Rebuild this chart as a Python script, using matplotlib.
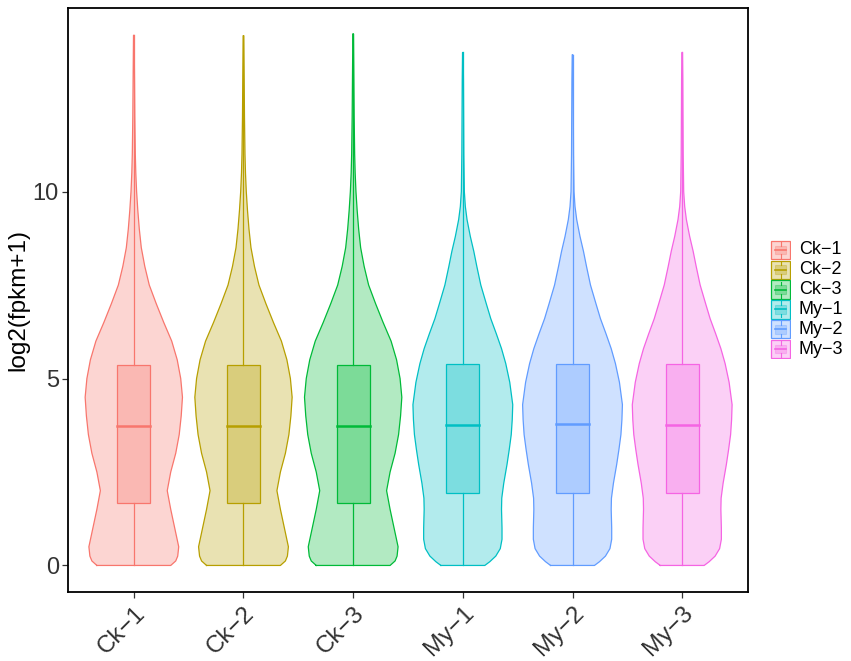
import numpy as np
import matplotlib.pyplot as plt
from matplotlib.patches import Rectangle

plt.rcParams['font.family'] = ['Liberation Sans', 'DejaVu Sans']

# samples and colours (ggplot hue palette)
samples = ['Ck−1', 'Ck−2', 'Ck−3', 'My−1', 'My−2', 'My−3']
colors = ['#F8766D', '#B79F00', '#00BA38', '#00BFC4', '#619CFF', '#F564E3']

# violin profiles: y level -> relative density (1 = widest)
y_ck = [0, 0.12, 0.25, 0.5, 1.0, 1.5, 2.0, 2.5, 3.0, 3.5, 4.0, 4.5, 5.0, 5.5, 6.0,
        6.5, 7.0, 7.5, 8.0, 8.5, 9.0, 9.5, 10.0, 10.5, 11.0, 12.0, 13.0]
d_ck = [0.74, 0.84, 0.88, 0.90, 0.82, 0.74, 0.67, 0.74, 0.84, 0.91, 0.95, 0.975,
        0.94, 0.87, 0.76, 0.60, 0.45, 0.31, 0.22, 0.15, 0.11, 0.08, 0.056, 0.04,
        0.03, 0.02, 0.014]
y_my = [0, 0.1, 0.25, 0.45, 0.7, 1.0, 1.5, 1.8, 2.2, 2.7, 3.1, 3.5, 3.9, 4.3, 4.9,
        5.4, 5.8, 6.2, 6.6, 7.0, 7.5, 8.0, 8.4, 8.8, 9.25, 9.6, 10.0, 11.0, 12.0, 13.0]
d_my = [0.44, 0.54, 0.66, 0.75, 0.785, 0.785, 0.775, 0.78, 0.82, 0.885, 0.93, 0.97,
        0.99, 1.0, 0.94, 0.86, 0.775, 0.67, 0.56, 0.47, 0.36, 0.28, 0.22, 0.15,
        0.084, 0.05, 0.03, 0.02, 0.016, 0.012]

# max value (violin tip / upper whisker) per sample
tops = [14.18, 14.17, 14.22, 13.72, 13.66, 13.72]
tip = 0.006

# box statistics
q1 = [1.68, 1.68, 1.66, 1.95, 1.95, 1.95]
med = [3.72, 3.74, 3.72, 3.77, 3.78, 3.76]
q3 = [5.36, 5.36, 5.36, 5.39, 5.40, 5.39]
lo = [0, 0, 0, 0, 0, 0]

fig = plt.figure(figsize=(8.51, 6.61), dpi=100)
ax = fig.add_axes([68 / 851, 1 - 592 / 661, 680 / 851, 584 / 661])

max_half = 0.455
box_w = 0.30
for i, name in enumerate(samples):
    pos = i + 1
    c = colors[i]
    if name.startswith('Ck'):
        ys = np.array(y_ck + [tops[i]])
        ds = np.array(d_ck + [tip])
    else:
        ys = np.array(y_my + [tops[i]])
        ds = np.array(d_my + [tip])
    half = ds * max_half
    ax.fill_betweenx(ys, pos - half, pos + half, facecolor=c, alpha=0.3,
                     edgecolor='none', zorder=2)
    xs = np.concatenate([pos - half, (pos + half)[::-1], [pos - half[0]]])
    yy = np.concatenate([ys, ys[::-1], [ys[0]]])
    ax.plot(xs, yy, color=c, lw=0.9, zorder=3)
    # boxplot
    ax.plot([pos, pos], [lo[i], q1[i]], color=c, lw=0.9, zorder=4)
    ax.plot([pos, pos], [q3[i], tops[i]], color=c, lw=0.9, zorder=4)
    ax.add_patch(Rectangle((pos - box_w / 2, q1[i]), box_w, q3[i] - q1[i],
                           facecolor=c, alpha=0.3, edgecolor='none', zorder=4))
    ax.add_patch(Rectangle((pos - box_w / 2, q1[i]), box_w, q3[i] - q1[i],
                           facecolor='none', edgecolor=c, lw=0.9, zorder=5))
    ax.plot([pos - box_w / 2, pos + box_w / 2], [med[i], med[i]], color=c,
            lw=1.8, zorder=6)

ax.set_xlim(0.4, 6.6)
ax.set_ylim(-0.71, 14.91)
ax.set_yticks([0, 5, 10])
ax.set_xticks(range(1, 7))
ax.set_xticklabels(samples, rotation=45, ha='right', va='top',
                   rotation_mode='anchor')
ax.tick_params(axis='both', labelsize=17.5, colors='#333333', length=4.5,
               width=0.9, labelcolor='#333333')
ax.tick_params(axis='x', pad=3)
ax.tick_params(axis='y', labelsize=17, pad=2)
ax.set_ylabel('log2(fpkm+1)', fontsize=17.5, color='black')
ax.yaxis.set_label_coords(-39 / 680, 0.5)
for sp in ax.spines.values():
    sp.set_linewidth(1.3)
    sp.set_color('black')

# legend drawn as small key glyphs
lg = fig.add_axes([770 / 851, 1 - 359 / 661, 21 / 851, 119 / 661])
lg.set_xlim(0, 1)
lg.set_ylim(0, 6)
lg.axis('off')
for i, name in enumerate(samples):
    c = colors[i]
    y0 = 5 - i
    lg.add_patch(Rectangle((0.04, y0 + 0.04), 0.92, 0.92, facecolor=c,
                           alpha=0.3, edgecolor='none'))
    lg.add_patch(Rectangle((0.04, y0 + 0.04), 0.92, 0.92, facecolor='none',
                           edgecolor=c, lw=0.9))
    lg.add_patch(Rectangle((0.22, y0 + 0.28), 0.56, 0.44, facecolor=c,
                           alpha=0.3, edgecolor=c, lw=0.8))
    lg.plot([0.22, 0.78], [y0 + 0.5, y0 + 0.5], color=c, lw=1.2)
    lg.plot([0.5, 0.5], [y0 + 0.1, y0 + 0.28], color=c, lw=0.8)
    lg.plot([0.5, 0.5], [y0 + 0.72, y0 + 0.9], color=c, lw=0.8)
    lg.text(1.38, y0 + 0.5, name, fontsize=13, va='center', ha='left',
            color='black', clip_on=False)

fig.savefig('out.png', dpi=100)
